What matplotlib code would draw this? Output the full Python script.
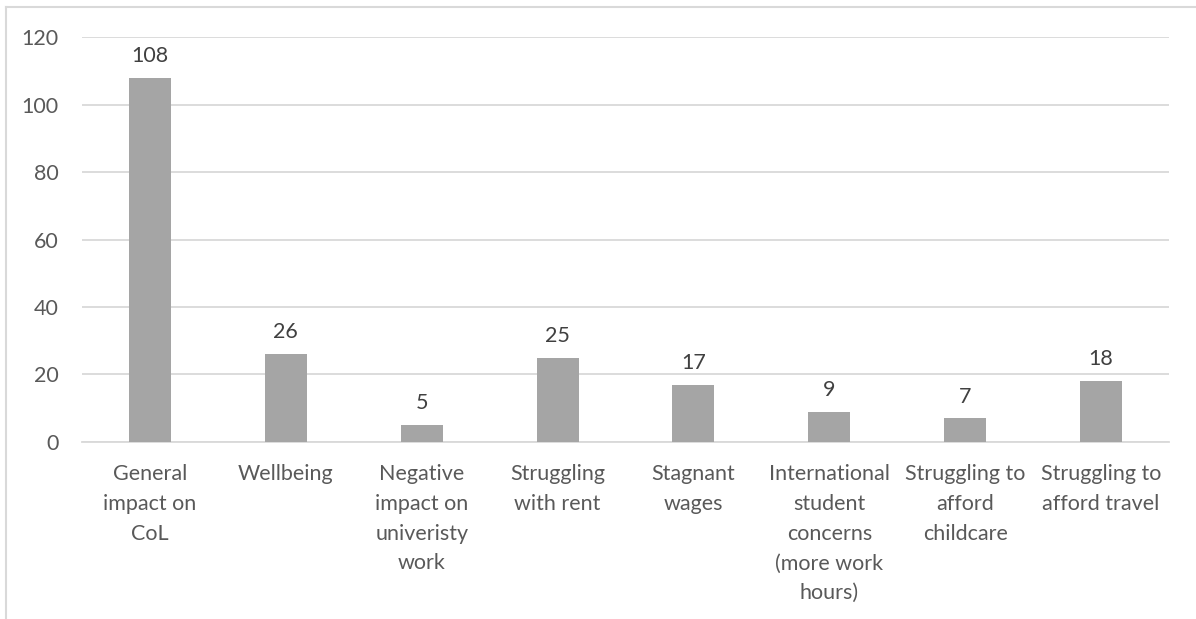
import matplotlib.pyplot as plt
from matplotlib.lines import Line2D

plt.rcParams['font.family'] = ['Lato', 'DejaVu Sans']

categories = ['General\nimpact on\nCoL', 'Wellbeing', 'Negative\nimpact on\nuniveristy\nwork',
              'Struggling\nwith rent', 'Stagnant\nwages',
              'International\nstudent\nconcerns\n(more work\nhours)',
              'Struggling to\nafford\nchildcare', 'Struggling to\nafford travel']
counts = [108, 26, 5, 25, 17, 9, 7, 18]
yticks = [0, 20, 40, 60, 80, 100, 120]

text_col = '#595959'
grid_col = '#d9d9d9'
fs = 15.5

fig = plt.figure(figsize=(11.96, 6.19), dpi=100)
ax = fig.add_axes([0.0686, 0.286, 0.9088, 0.654])

x = range(len(categories))
bars = ax.bar(x, counts, width=0.31, color='#a5a5a5', zorder=3)
for b, v in zip(bars, counts):
    ax.annotate(str(v), (b.get_x() + b.get_width() / 2, v), xytext=(0, 8.5),
                textcoords='offset points', ha='center', va='bottom',
                fontsize=fs, color='#404040')

ax.set_xlim(-0.5, len(categories) - 0.5)
ax.set_ylim(0, 120)
ax.set_yticks(yticks)
ax.yaxis.grid(True, color=grid_col, linewidth=1.3, zorder=0)
ax.set_xticks(list(x))
ax.set_xticklabels(categories, linespacing=1.61)
ax.tick_params(axis='both', length=0, labelsize=fs, labelcolor=text_col)
ax.tick_params(axis='x', pad=16)
ax.tick_params(axis='y', pad=17)
for s in ['top', 'right', 'left']:
    ax.spines[s].set_visible(False)
ax.spines['bottom'].set_color(grid_col)
ax.spines['bottom'].set_linewidth(1.3)

# chart frame (only top and left edges fall inside the image)
fig.add_artist(Line2D([0.005, 1.0], [0.989, 0.989], color=grid_col, lw=1.5))
fig.add_artist(Line2D([0.005, 0.005], [0.0, 0.989], color=grid_col, lw=1.5))

fig.savefig('out.png', dpi=100)
